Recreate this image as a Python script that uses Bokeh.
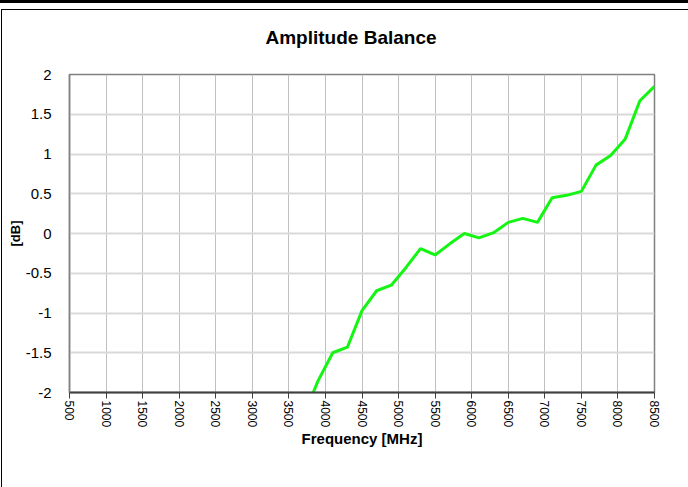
from bokeh.plotting import figure
from bokeh.models import Range1d, FixedTicker, Div, Title
from bokeh.layouts import column, row
from bokeh.embed import file_html
from bokeh.resources import INLINE

freq_mhz = [3700, 3900, 4100, 4300, 4500, 4700, 4900, 5100, 5300, 5500, 5700, 5900,
            6100, 6300, 6500, 6700, 6900, 7100, 7300, 7500, 7700, 7900, 8100, 8300, 8500]
balance_db = [-2.30, -1.85, -1.50, -1.43, -0.97, -0.72, -0.65, -0.43, -0.19, -0.27, -0.13, 0.00,
              -0.055, 0.01, 0.14, 0.19, 0.14, 0.45, 0.48, 0.53, 0.86, 0.98, 1.19, 1.67, 1.85]

x_ticks = list(range(500, 8501, 500))
x_tick_labels = [str(t) for t in x_ticks]
y_ticks = [-2, -1.5, -1, -0.5, 0, 0.5, 1, 1.5, 2]
y_tick_labels = ["-2", "-1.5", "-1", "-0.5", "0", "0.5", "1", "1.5", "2"]

FONT = "Liberation Sans"

p = figure(width=684, height=477, output_backend="svg", toolbar_location=None, title=None,
           x_range=Range1d(500, 8500), y_range=Range1d(-2, 2),
           min_border_left=67, min_border_right=32, min_border_top=64, min_border_bottom=95,
           margin=0)

p.background_fill_color = "white"
p.border_fill_color = "white"
p.outline_line_color = "#808080"
p.outline_line_width = 1.5

# spacer title (closest to the frame) and the real title above it
p.add_layout(Title(text=" ", text_font_size="2px", standoff=5), "above")
p.add_layout(Title(text="Amplitude Balance", align="left", offset=196, vertical_align="top",
                   standoff=32, text_font=FONT, text_font_size="19px",
                   text_font_style="bold", text_color="black"), "above")

p.line(freq_mhz, balance_db, line_color="#14f514", line_width=3)

# axes
p.xaxis.ticker = FixedTicker(ticks=x_ticks)
p.xaxis.major_label_overrides = {t: l for t, l in zip(x_ticks, x_tick_labels)}
p.xaxis.major_label_orientation = "vertical"
p.xaxis.axis_label = "Frequency [MHz]"
p.yaxis.ticker = FixedTicker(ticks=y_ticks)
p.yaxis.major_label_overrides = {t: l for t, l in zip(y_ticks, y_tick_labels)}
p.yaxis.axis_label = "[dB]"

for ax in (p.xaxis[0], p.yaxis[0]):
    ax.major_label_text_font = FONT
    ax.major_label_text_color = "black"
    ax.axis_label_text_font = FONT
    ax.axis_label_text_font_style = "bold"
    ax.axis_label_text_color = "black"
    ax.minor_tick_line_color = None

p.xaxis.major_label_text_font_size = "12px"
p.yaxis.major_label_text_font_size = "15px"
p.xaxis.axis_label_text_font_size = "15px"
p.yaxis.axis_label_text_font_size = "13px"

p.xaxis.axis_line_color = "#404040"
p.xaxis.axis_line_width = 2
p.xaxis.major_tick_line_color = "#404040"
p.xaxis.major_tick_out = 6
p.xaxis.major_tick_in = 0
p.xaxis.major_label_standoff = 2
p.xaxis.axis_label_standoff = 0

p.yaxis.axis_line_color = "#808080"
p.yaxis.axis_line_width = 1.5
p.yaxis.major_tick_line_color = None
p.yaxis.major_label_standoff = 12
p.yaxis.axis_label_standoff = 0

p.xgrid.grid_line_color = "#c0c0c0"
p.xgrid.grid_line_width = 1
p.ygrid.grid_line_color = "#d9d9d9"
p.ygrid.grid_line_width = 2

# page decoration: thick rule at top, then the chart's own frame (top and left edges)
band = Div(text="", width=688, height=3, margin=0, styles={"background-color": "black"})
gap = Div(text="", width=688, height=6, margin=0)
top_rule = Div(text="", width=687, height=1, margin=(0, 0, 0, 1), styles={"background-color": "black"})
left_rule = Div(text="", width=1, height=477, margin=(0, 0, 0, 1), styles={"background-color": "black"})
layout = column(band, gap, top_rule, row(left_rule, p, spacing=0), spacing=0)

open("out.html", "w").write(file_html(layout, INLINE))
